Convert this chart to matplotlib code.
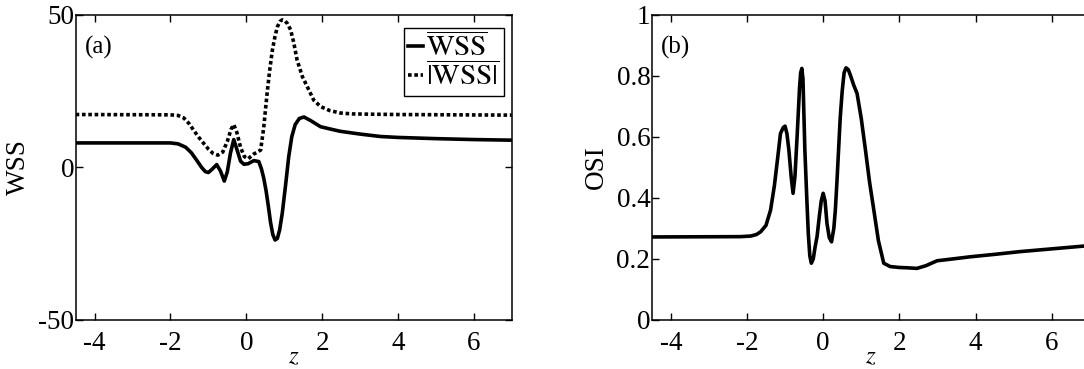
import matplotlib
matplotlib.use("Agg")
import matplotlib.pyplot as plt

plt.rcParams['font.family'] = ['Liberation Serif', 'DejaVu Serif']
plt.rcParams['mathtext.fontset'] = 'stix'

# ---- data ----
z_wss = [-4.5, -2.0, -1.8, -1.6, -1.45, -1.3, -1.18, -1.08, -1.0, -0.9, -0.78,
         -0.68, -0.58, -0.5, -0.42, -0.33, -0.25, -0.15, -0.06, 0.05, 0.2, 0.33,
         0.40, 0.46, 0.52, 0.58, 0.64, 0.70, 0.76, 0.82, 0.88, 0.95, 1.04, 1.12,
         1.2, 1.29, 1.4, 1.52, 1.7, 1.96, 2.2, 2.48, 3.0, 3.54, 4.0, 5.0, 6.0, 7.0]
wss_mean = [8.0, 8.0, 7.7, 6.6, 4.8, 2.2, 0.0, -1.4, -1.7, -0.6, 0.9,
            -1.2, -4.5, -1.5, 4.5, 9.1, 6.0, 2.0, 1.0, 1.2, 2.2, 1.9,
            -0.5, -3.5, -7.5, -12.5, -18.0, -22.0, -23.8, -23.3, -20.5, -15.0, -5.5, 3.5,
            10.0, 14.0, 16.0, 16.5, 15.3, 13.3, 12.6, 11.8, 10.9, 10.1, 9.8, 9.4, 9.1, 8.9]

z_abs = [-4.5, -2.0, -1.8, -1.65, -1.5, -1.38, -1.25, -1.12, -1.0, -0.88, -0.75,
         -0.62, -0.5, -0.4, -0.33, -0.25, -0.15, -0.05, 0.05, 0.2, 0.3, 0.38,
         0.46, 0.55, 0.62, 0.69, 0.76, 0.82, 0.89, 0.95, 1.02, 1.09, 1.17, 1.25,
         1.34, 1.48, 1.61, 1.78, 1.96, 2.2, 2.48, 2.8, 3.3, 4.0, 5.5, 7.0]
wss_abs = [17.3, 17.2, 17.0, 16.2, 14.2, 12.0, 9.8, 7.8, 6.0, 4.6, 4.0,
           5.0, 8.5, 12.5, 14.0, 11.5, 6.5, 3.5, 2.8, 4.4, 5.0, 5.7,
           13.0, 24.3, 32.0, 38.5, 43.0, 46.0, 47.8, 48.3, 48.0, 47.0, 45.0, 41.0,
           35.2, 29.7, 26.4, 22.0, 19.9, 18.6, 17.8, 17.5, 17.4, 17.3, 17.2, 17.1]

z_osi = [-4.5, -2.17, -1.9, -1.75, -1.64, -1.5, -1.38, -1.28, -1.2, -1.12, -1.05,
         -1.0, -0.95, -0.9, -0.84, -0.79, -0.74, -0.68, -0.62, -0.59, -0.56, -0.53,
         -0.48, -0.43, -0.39, -0.35, -0.31, -0.26, -0.21, -0.16, -0.1, -0.05, 0.0,
         0.05, 0.1, 0.16, 0.22, 0.28, 0.32, 0.36, 0.41, 0.45, 0.5, 0.55, 0.6,
         0.66, 0.72, 0.8, 0.89, 1.0, 1.11, 1.22, 1.33, 1.45, 1.59, 1.76, 2.0,
         2.2, 2.46, 2.7, 2.99, 3.4, 3.86, 4.5, 5.17, 6.0, 6.83, 7.0]
osi = [0.272, 0.273, 0.275, 0.28, 0.289, 0.31, 0.36, 0.44, 0.524, 0.611, 0.63,
       0.635, 0.61, 0.557, 0.47, 0.415, 0.47, 0.61, 0.76, 0.81, 0.824, 0.79,
       0.557, 0.40, 0.284, 0.21, 0.186, 0.20, 0.24, 0.273, 0.34, 0.39, 0.415,
       0.39, 0.317, 0.27, 0.256, 0.30, 0.36, 0.448, 0.57, 0.666, 0.75, 0.81, 0.826,
       0.82, 0.80, 0.77, 0.742, 0.66, 0.557, 0.45, 0.36, 0.26, 0.186, 0.175, 0.172,
       0.171, 0.169, 0.178, 0.194, 0.200, 0.207, 0.215, 0.224, 0.233, 0.242, 0.244]

xticks = [-4, -2, 0, 2, 4, 6]
wss_yticks = [-50, 0, 50]
osi_yticks = [0, 0.2, 0.4, 0.6, 0.8, 1.0]
osi_yticklabels = ['0', '0.2', '0.4', '0.6', '0.8', '1']

fig = plt.figure(figsize=(10.84, 3.69), dpi=100)
ax1 = fig.add_axes([0.0698, 0.1328, 0.4022, 0.8274])
ax2 = fig.add_axes([0.6012, 0.1328, 0.4042, 0.8274])

lw = 2.6
ax1.plot(z_wss, wss_mean, color='black', lw=lw, solid_joinstyle='round',
         label=r'$\overline{\mathrm{WSS}}$')
ax1.plot(z_abs, wss_abs, color='black', lw=lw, linestyle=(0, (1.0, 0.75)),
         label=r'$\overline{|\mathrm{WSS}|}$')
ax2.plot(z_osi, osi, color='black', lw=lw, solid_joinstyle='round')

for ax in (ax1, ax2):
    ax.set_xlim(-4.5, 7)
    ax.set_xticks(xticks)
    ax.set_xticklabels([str(t) for t in xticks])
    ax.tick_params(direction='in', length=5, width=1, top=True, right=True,
                   labelsize=19.5)
    ax.tick_params(axis='x', pad=8)
    ax.tick_params(axis='y', pad=1)
    for s in ax.spines.values():
        s.set_linewidth(1.1)
    ax.set_xlabel('$z$', fontsize=18)
    ax.xaxis.label.set_va('bottom')
    ax.xaxis.set_label_coords(0.5, -0.157)

ax2.tick_params(right=False)

ax1.set_ylim(-50, 50)
ax1.set_yticks(wss_yticks)
ax1.set_yticklabels([str(t) for t in wss_yticks])
ax1.set_ylabel('WSS', fontsize=19.5)
ax1.yaxis.set_label_coords(-0.1025, 0.5)
ax1.text(0.02, 0.893, '(a)', transform=ax1.transAxes, fontsize=18,
         ha='left', va='center')
leg = ax1.legend(loc='upper right', bbox_to_anchor=(0.982, 0.956),
                 borderaxespad=0, fontsize=21, handlelength=0.5,
                 handletextpad=0.1, labelspacing=0.0, borderpad=0.15,
                 fancybox=False, framealpha=1, edgecolor='black')
leg.get_frame().set_linewidth(1.0)

ax2.set_ylim(0, 1)
ax2.set_yticks(osi_yticks)
ax2.set_yticklabels(osi_yticklabels)
ax2.set_ylabel('OSI', fontsize=19.5)
ax2.yaxis.set_label_coords(-0.098, 0.5)
ax2.text(0.022, 0.893, '(b)', transform=ax2.transAxes, fontsize=18,
         ha='left', va='center')

fig.savefig('out.png', dpi=100)
